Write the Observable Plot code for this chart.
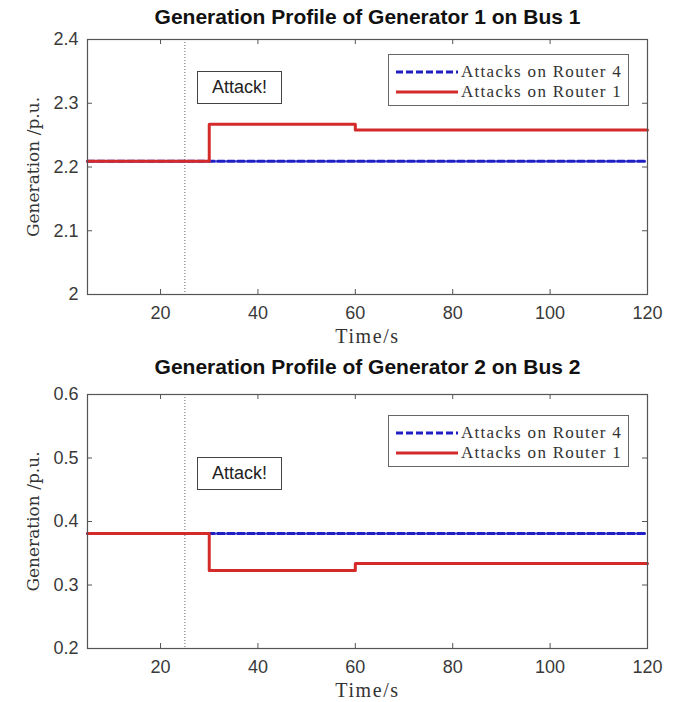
<!DOCTYPE html>
<html>
<head>
<meta charset="utf-8">
<script src="https://cdn.jsdelivr.net/npm/d3@7"></script>
<script src="https://cdn.jsdelivr.net/npm/@observablehq/plot@0.6"></script>
<style>
  html, body { margin: 0; padding: 0; background: #fff; }
  #wrap { position: relative; width: 673px; height: 702px; }
  .panel { position: absolute; left: 0; }
  .legend { position: absolute; border: 1px solid #666; background: #fff; box-sizing: border-box; }
  .legend .row { position: absolute; left: 0; height: 20px; display: flex; align-items: center; }
  .legend .row svg { margin-left: 7px; }
  .legend .row span { margin-left: 3px; font-family: "Liberation Serif", serif; font-size: 17px; letter-spacing: 1.3px; color: #333; white-space: nowrap; }
  .attack { position: absolute; border: 1.5px solid #444; background: #fff; box-sizing: border-box;
            font-family: "Liberation Sans", Arial, sans-serif; font-size: 18px; color: #222;
            display: flex; align-items: center; justify-content: center; }
</style>
</head>
<body>
<div id="wrap"></div>
<script>
// ---- data ----
const time = [5, 30, 60, 120];
const gen1Router1 = [2.209, 2.267, 2.258, 2.258];
const gen1Router4 = [2.209, 2.209, 2.209, 2.209];
const gen2Router1 = [0.381, 0.323, 0.334, 0.334];
const gen2Router4 = [0.381, 0.381, 0.381, 0.381];
const attackTime = 25;
const xDomain = [5, 120];
const xTicks = [20, 40, 60, 80, 100, 120];
const yTicks1 = [2, 2.1, 2.2, 2.3, 2.4];
const yTicks2 = [0.2, 0.3, 0.4, 0.5, 0.6];
const titles = ["Generation Profile of Generator 1 on Bus 1", "Generation Profile of Generator 2 on Bus 2"];
const seriesNames = ["Attacks on Router 4", "Attacks on Router 1"];
const xLabel = "Time/s";
const yLabel = "Generation /p.u.";
const attackText = "Attack!";

const RED = "#d42a2a";
const BLUE = "#1f1fc4";
const wrap = document.getElementById("wrap");

function makePanel({top, height, marginTop, marginBottom, title, r1, r4, yTicks, legendTop, attackTop}) {
  const marginLeft = 87, marginRight = 26;
  const innerH = height - marginTop - marginBottom;
  const innerW = 673 - marginLeft - marginRight;
  const t4 = time.map((t, i) => ({t, v: r4[i]}));
  const t1 = time.map((t, i) => ({t, v: r1[i]}));
  const svg = Plot.plot({
    width: 673, height, marginTop, marginBottom, marginLeft, marginRight,
    style: {fontFamily: "Liberation Sans, Arial, sans-serif", fontSize: "18px", color: "#3a3a3a", background: "#fff"},
    x: {domain: xDomain, ticks: xTicks, tickSize: 0, tickPadding: 12, label: null, tickFormat: d3.format("~g")},
    y: {domain: [yTicks[0], yTicks[yTicks.length - 1]], ticks: yTicks, tickSize: 0, tickPadding: 9, label: null, tickFormat: d3.format("~g")},
    marks: [
      Plot.ruleX([attackTime], {x: d => d, stroke: "#666", strokeDasharray: "1,2", strokeWidth: 1}),
      Plot.line(t4, {x: "t", y: "v", curve: "step-after", stroke: BLUE, strokeWidth: 3, strokeDasharray: "7,3"}),
      Plot.line(t1, {x: "t", y: "v", curve: "step-after", stroke: RED, strokeWidth: 3}),
      Plot.tickX(xTicks, {x: d => d, stroke: "#555", insetTop: innerH - 5}),
      Plot.tickX(xTicks, {x: d => d, stroke: "#555", insetBottom: innerH - 5}),
      Plot.tickY(yTicks, {y: d => d, stroke: "#555", insetRight: innerW - 5}),
      Plot.tickY(yTicks, {y: d => d, stroke: "#555", insetLeft: innerW - 5}),
      Plot.frame({stroke: "#555", strokeWidth: 1.2}),
      Plot.text([title], {text: d => d, frameAnchor: "top", lineAnchor: "middle", textAnchor: "middle", dy: -(marginTop - 17), fontWeight: "bold", fontSize: 21, fill: "#111"}),
      Plot.text([xLabel], {text: d => d, frameAnchor: "bottom", lineAnchor: "middle", textAnchor: "middle", dy: 42, fontFamily: "Liberation Serif", fontSize: 20, fill: "#333"}),
      Plot.text([yLabel], {text: d => d, frameAnchor: "left", lineAnchor: "middle", textAnchor: "middle", dx: -54, rotate: -90, fontFamily: "DejaVu Serif", fontSize: 17, fill: "#333"})
    ]
  });
  d3.select(svg).selectAll("g[font-family='Liberation Serif'] text").style("letter-spacing", "1.6px");
  const div = document.createElement("div");
  div.className = "panel";
  div.style.top = top + "px";
  div.appendChild(svg);

  // legend (inside axes, upper right)
  const lg = document.createElement("div");
  lg.className = "legend";
  lg.style.left = "388px"; lg.style.top = legendTop + "px";
  lg.style.width = "241px"; lg.style.height = "52px";
  const rows = [
    {name: seriesNames[0], color: BLUE, dash: "7,3", y: 7},
    {name: seriesNames[1], color: RED, dash: null, y: 27}
  ];
  for (const r of rows) {
    const row = document.createElement("div");
    row.className = "row";
    row.style.top = r.y + "px";
    row.innerHTML = `<svg width="62" height="10"><line x1="0" x2="62" y1="5" y2="5" stroke="${r.color}" stroke-width="3" ${r.dash ? `stroke-dasharray="${r.dash}"` : ""}/></svg><span>${r.name}</span>`;
    lg.appendChild(row);
  }
  div.appendChild(lg);

  const ab = document.createElement("div");
  ab.className = "attack";
  ab.style.left = "197px"; ab.style.top = attackTop + "px";
  ab.style.width = "85px"; ab.style.height = "33px";
  ab.textContent = attackText;
  div.appendChild(ab);

  wrap.appendChild(div);
}

makePanel({top: 0, height: 350, marginTop: 39, marginBottom: 56, title: titles[0], r1: gen1Router1, r4: gen1Router4, yTicks: yTicks1, legendTop: 54, attackTop: 71});
makePanel({top: 350, height: 352, marginTop: 44, marginBottom: 54, title: titles[1], r1: gen2Router1, r4: gen2Router4, yTicks: yTicks2, legendTop: 65, attackTop: 107});
</script>
</body>
</html>
